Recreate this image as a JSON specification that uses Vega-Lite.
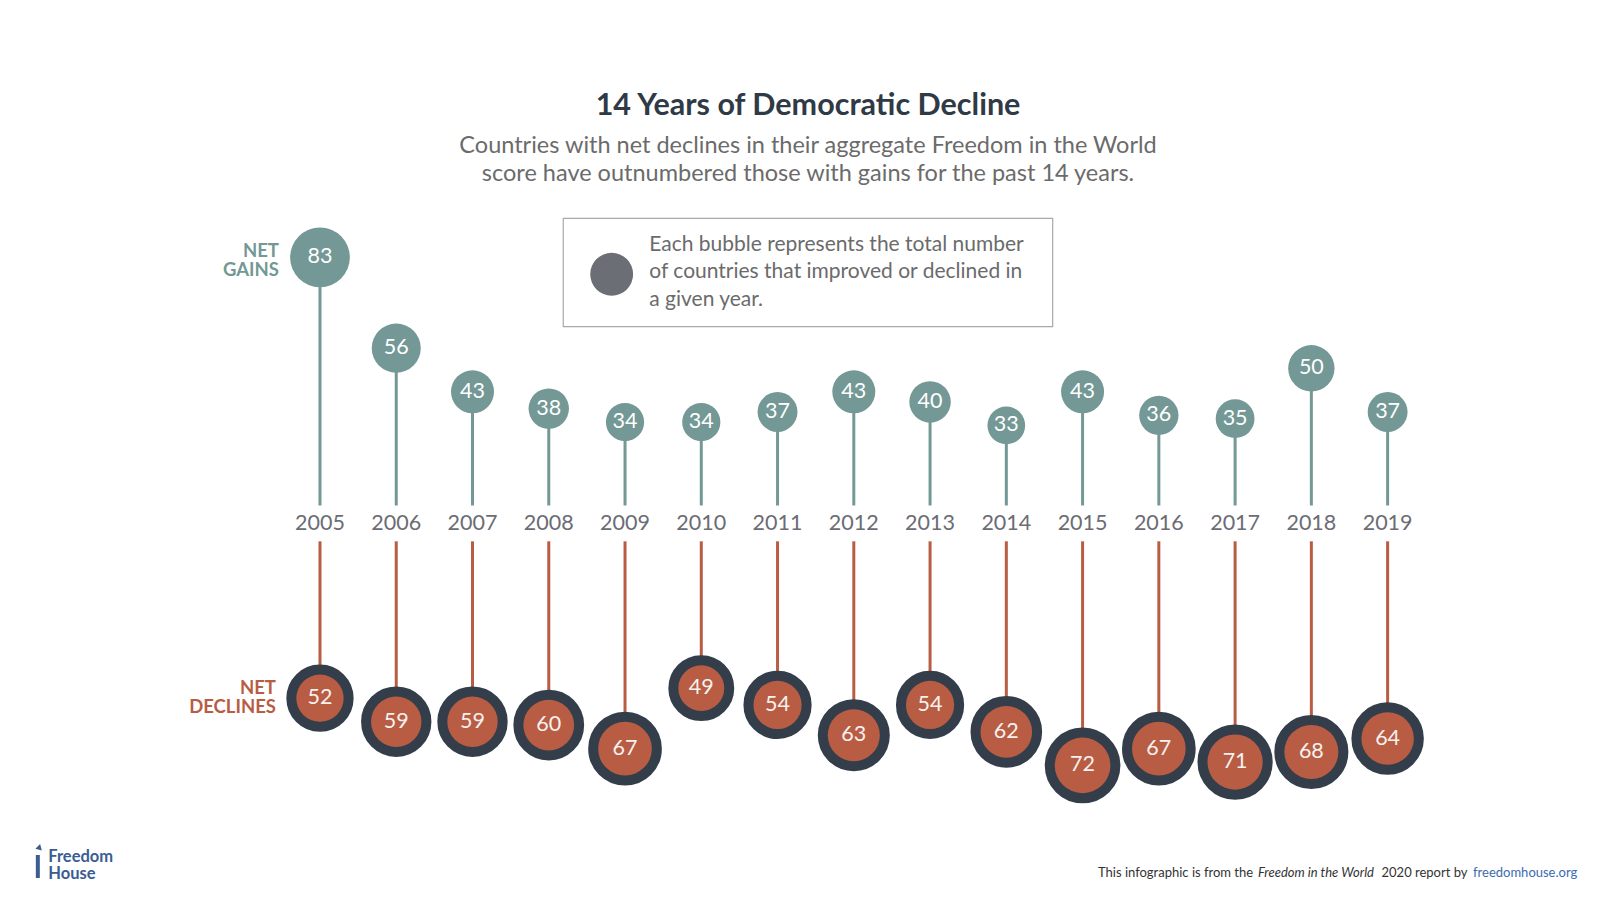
{
  "$schema": "https://vega.github.io/schema/vega-lite/v6.json",
  "autosize": {"type": "none"},
  "padding": {"top": 200, "left": 0, "right": 0, "bottom": 0},
  "width": 1600,
  "height": 702,
  "background": "white",
  "config": {"view": {"stroke": null}, "text": {"font": "Lato"}},
  "title": {
    "text": "14 Years of Democratic Decline",
    "subtitle": ["Countries with net declines in their aggregate Freedom in the World", "score have outnumbered those with gains for the past 14 years."],
    "anchor": "middle",
    "font": "Lato",
    "fontSize": 30.5,
    "fontWeight": "bold",
    "color": "#2f3a46",
    "subtitleFont": "Lato",
    "subtitleFontSize": 23.5,
    "subtitleColor": "#6b6b6b",
    "subtitleLineHeight": 27.5,
    "subtitlePadding": 13,
    "offset": 15,
    "dx": 8
  },
  "data": {
    "values": [
      {"year": 2005, "gains": 83, "declines": 52},
      {"year": 2006, "gains": 56, "declines": 59},
      {"year": 2007, "gains": 43, "declines": 59},
      {"year": 2008, "gains": 38, "declines": 60},
      {"year": 2009, "gains": 34, "declines": 67},
      {"year": 2010, "gains": 34, "declines": 49},
      {"year": 2011, "gains": 37, "declines": 54},
      {"year": 2012, "gains": 43, "declines": 63},
      {"year": 2013, "gains": 40, "declines": 54},
      {"year": 2014, "gains": 33, "declines": 62},
      {"year": 2015, "gains": 43, "declines": 72},
      {"year": 2016, "gains": 36, "declines": 67},
      {"year": 2017, "gains": 35, "declines": 71},
      {"year": 2018, "gains": 50, "declines": 68},
      {"year": 2019, "gains": 37, "declines": 64}
    ]
  },
  "resolve": {"scale": {"y": "independent"}},
  "layer": [
    {
      "mark": {"type": "rule", "color": "#739895", "strokeWidth": 3},
      "encoding": {
        "x": {"field": "year", "type": "quantitative", "scale": {"domain": [2000.804, 2021.785], "nice": false, "zero": false}, "axis": null},
        "y": {"field": "gains", "type": "quantitative", "scale": {"domain": [-108.84, 100.09], "nice": false, "zero": false}, "axis": null},
        "y2": {"datum": 9.17}
      }
    },
    {
      "mark": {"type": "circle", "color": "#739895", "opacity": 1},
      "encoding": {
        "x": {"field": "year", "type": "quantitative", "scale": {"domain": [2000.804, 2021.785], "nice": false, "zero": false}, "axis": null},
        "y": {"field": "gains", "type": "quantitative", "scale": {"domain": [-108.84, 100.09], "nice": false, "zero": false}, "axis": null},
        "size": {"field": "gains", "type": "quantitative", "scale": {"domain": [0, 83], "range": [0, 3568]}, "legend": null}
      }
    },
    {
      "mark": {"type": "text", "color": "#ffffff", "fontSize": 21.5, "baseline": "middle", "align": "center"},
      "encoding": {
        "x": {"field": "year", "type": "quantitative", "scale": {"domain": [2000.804, 2021.785], "nice": false, "zero": false}, "axis": null},
        "y": {"field": "gains", "type": "quantitative", "scale": {"domain": [-108.84, 100.09], "nice": false, "zero": false}, "axis": null},
        "text": {"field": "gains", "type": "quantitative"}
      }
    },
    {
      "mark": {"type": "rule", "color": "#b85d44", "strokeWidth": 3},
      "encoding": {
        "x": {"field": "year", "type": "quantitative", "scale": {"domain": [2000.804, 2021.785], "nice": false, "zero": false}, "axis": null},
        "y": {"field": "declines", "type": "quantitative", "scale": {"domain": [-96.28, 112.65], "reverse": true, "nice": false, "zero": false}, "axis": null},
        "y2": {"datum": 5.3}
      }
    },
    {
      "mark": {"type": "circle", "color": "#343e4b", "stroke": "#343e4b", "strokeWidth": 20, "opacity": 1},
      "encoding": {
        "x": {"field": "year", "type": "quantitative", "scale": {"domain": [2000.804, 2021.785], "nice": false, "zero": false}, "axis": null},
        "y": {"field": "declines", "type": "quantitative", "scale": {"domain": [-96.28, 112.65], "reverse": true, "nice": false, "zero": false}, "axis": null},
        "size": {"field": "declines", "type": "quantitative", "scale": {"domain": [0, 83], "range": [0, 3568]}, "legend": null}
      }
    },
    {
      "mark": {"type": "circle", "color": "#b85d44", "opacity": 1},
      "encoding": {
        "x": {"field": "year", "type": "quantitative", "scale": {"domain": [2000.804, 2021.785], "nice": false, "zero": false}, "axis": null},
        "y": {"field": "declines", "type": "quantitative", "scale": {"domain": [-96.28, 112.65], "reverse": true, "nice": false, "zero": false}, "axis": null},
        "size": {"field": "declines", "type": "quantitative", "scale": {"domain": [0, 83], "range": [0, 3568]}, "legend": null}
      }
    },
    {
      "mark": {"type": "text", "color": "#f6f1ee", "fontSize": 21.5, "baseline": "middle", "align": "center"},
      "encoding": {
        "x": {"field": "year", "type": "quantitative", "scale": {"domain": [2000.804, 2021.785], "nice": false, "zero": false}, "axis": null},
        "y": {"field": "declines", "type": "quantitative", "scale": {"domain": [-96.28, 112.65], "reverse": true, "nice": false, "zero": false}, "axis": null},
        "text": {"field": "declines", "type": "quantitative"}
      }
    },
    {
      "mark": {"type": "text", "color": "#6b6c74", "fontSize": 21.5, "baseline": "middle", "align": "center"},
      "encoding": {
        "x": {"field": "year", "type": "quantitative", "scale": {"domain": [2000.804, 2021.785], "nice": false, "zero": false}, "axis": null},
        "y": {"datum": 3.7, "type": "quantitative", "scale": {"domain": [-108.84, 100.09], "nice": false, "zero": false}, "axis": null},
        "text": {"field": "year", "type": "nominal"}
      }
    },
    {
      "data": {"values": [{}]},
      "layer": [
        {
          "mark": {"type": "rect", "fill": "#ffffff", "stroke": "#a9a9a9", "strokeWidth": 1.2},
          "encoding": {
            "x": {"datum": 2008.19, "type": "quantitative", "scale": {"domain": [2000.804, 2021.785], "nice": false, "zero": false}, "axis": null},
            "x2": {"datum": 2014.608},
            "y": {"datum": 94.61, "type": "quantitative", "scale": {"domain": [-108.84, 100.09], "nice": false, "zero": false}, "axis": null},
            "y2": {"datum": 62.38}
          }
        },
        {
          "mark": {"type": "circle", "color": "#6b6e75", "opacity": 1, "size": 1840},
          "encoding": {
            "x": {"datum": 2008.825, "type": "quantitative", "scale": {"domain": [2000.804, 2021.785], "nice": false, "zero": false}, "axis": null},
            "y": {"datum": 77.98, "type": "quantitative", "scale": {"domain": [-108.84, 100.09], "nice": false, "zero": false}, "axis": null}
          }
        },
        {
          "mark": {"type": "text", "color": "#6b6b6b", "fontSize": 21, "align": "left", "baseline": "middle", "lineHeight": 27.5,
            "text": ["Each bubble represents the total number", "of countries that improved or declined in", "a given year."]},
          "encoding": {
            "x": {"datum": 2009.318, "type": "quantitative", "scale": {"domain": [2000.804, 2021.785], "nice": false, "zero": false}, "axis": null},
            "y": {"datum": 86.7, "type": "quantitative", "scale": {"domain": [-108.84, 100.09], "nice": false, "zero": false}, "axis": null}
          }
        },
        {
          "mark": {"type": "text", "color": "#739895", "fontSize": 18.5, "fontWeight": "bold", "align": "right", "baseline": "middle", "lineHeight": 19.2,
            "text": ["NET", "GAINS"]},
          "encoding": {
            "x": {"datum": 2004.462, "type": "quantitative", "scale": {"domain": [2000.804, 2021.785], "nice": false, "zero": false}, "axis": null},
            "y": {"datum": 85.0, "type": "quantitative", "scale": {"domain": [-108.84, 100.09], "nice": false, "zero": false}, "axis": null}
          }
        },
        {
          "mark": {"type": "text", "color": "#b85d44", "fontSize": 18.5, "fontWeight": "bold", "align": "right", "baseline": "middle", "lineHeight": 19.2,
            "text": ["NET", "DECLINES"]},
          "encoding": {
            "x": {"datum": 2004.423, "type": "quantitative", "scale": {"domain": [2000.804, 2021.785], "nice": false, "zero": false}, "axis": null},
            "y": {"datum": -45.24, "type": "quantitative", "scale": {"domain": [-108.84, 100.09], "nice": false, "zero": false}, "axis": null}
          }
        },
        {
          "mark": {"type": "rule", "color": "#3a5d93", "strokeWidth": 4},
          "encoding": {
            "x": {"datum": 2001.30, "type": "quantitative", "scale": {"domain": [2000.804, 2021.785], "nice": false, "zero": false}, "axis": null},
            "y": {"datum": -94.85, "type": "quantitative", "scale": {"domain": [-108.84, 100.09], "nice": false, "zero": false}, "axis": null},
            "y2": {"datum": -101.7}
          }
        },
        {
          "mark": {"type": "point", "shape": "triangle-up", "filled": true, "color": "#3a5d93", "opacity": 1, "size": 45, "angle": 15},
          "encoding": {
            "x": {"datum": 2001.32, "type": "quantitative", "scale": {"domain": [2000.804, 2021.785], "nice": false, "zero": false}, "axis": null},
            "y": {"datum": -92.4, "type": "quantitative", "scale": {"domain": [-108.84, 100.09], "nice": false, "zero": false}, "axis": null}
          }
        },
        {
          "mark": {"type": "text", "color": "#3a5d93", "fontSize": 16.5, "fontWeight": "bold", "align": "left", "baseline": "middle", "lineHeight": 17,
            "text": ["Freedom", "House"]},
          "encoding": {
            "x": {"datum": 2001.437, "type": "quantitative", "scale": {"domain": [2000.804, 2021.785], "nice": false, "zero": false}, "axis": null},
            "y": {"datum": -95.4, "type": "quantitative", "scale": {"domain": [-108.84, 100.09], "nice": false, "zero": false}, "axis": null}
          }
        },
        {
          "mark": {"type": "text", "color": "#333333", "fontSize": 13, "align": "left", "baseline": "middle", "text": "This infographic is from the"},
          "encoding": {
            "x": {"datum": 2015.202, "type": "quantitative", "scale": {"domain": [2000.804, 2021.785], "nice": false, "zero": false}, "axis": null},
            "y": {"datum": -100.3, "type": "quantitative", "scale": {"domain": [-108.84, 100.09], "nice": false, "zero": false}, "axis": null}
          }
        },
        {
          "mark": {"type": "text", "color": "#333333", "fontSize": 13, "fontStyle": "italic", "align": "left", "baseline": "middle", "text": "Freedom in the World"},
          "encoding": {
            "x": {"datum": 2017.30, "type": "quantitative", "scale": {"domain": [2000.804, 2021.785], "nice": false, "zero": false}, "axis": null},
            "y": {"datum": -100.3, "type": "quantitative", "scale": {"domain": [-108.84, 100.09], "nice": false, "zero": false}, "axis": null}
          }
        },
        {
          "mark": {"type": "text", "color": "#333333", "fontSize": 13, "align": "left", "baseline": "middle", "text": "2020 report by"},
          "encoding": {
            "x": {"datum": 2018.92, "type": "quantitative", "scale": {"domain": [2000.804, 2021.785], "nice": false, "zero": false}, "axis": null},
            "y": {"datum": -100.3, "type": "quantitative", "scale": {"domain": [-108.84, 100.09], "nice": false, "zero": false}, "axis": null}
          }
        },
        {
          "mark": {"type": "text", "color": "#3b6bb0", "fontSize": 13, "align": "left", "baseline": "middle", "text": "freedomhouse.org"},
          "encoding": {
            "x": {"datum": 2020.12, "type": "quantitative", "scale": {"domain": [2000.804, 2021.785], "nice": false, "zero": false}, "axis": null},
            "y": {"datum": -100.3, "type": "quantitative", "scale": {"domain": [-108.84, 100.09], "nice": false, "zero": false}, "axis": null}
          }
        }
      ]
    }
  ]
}
